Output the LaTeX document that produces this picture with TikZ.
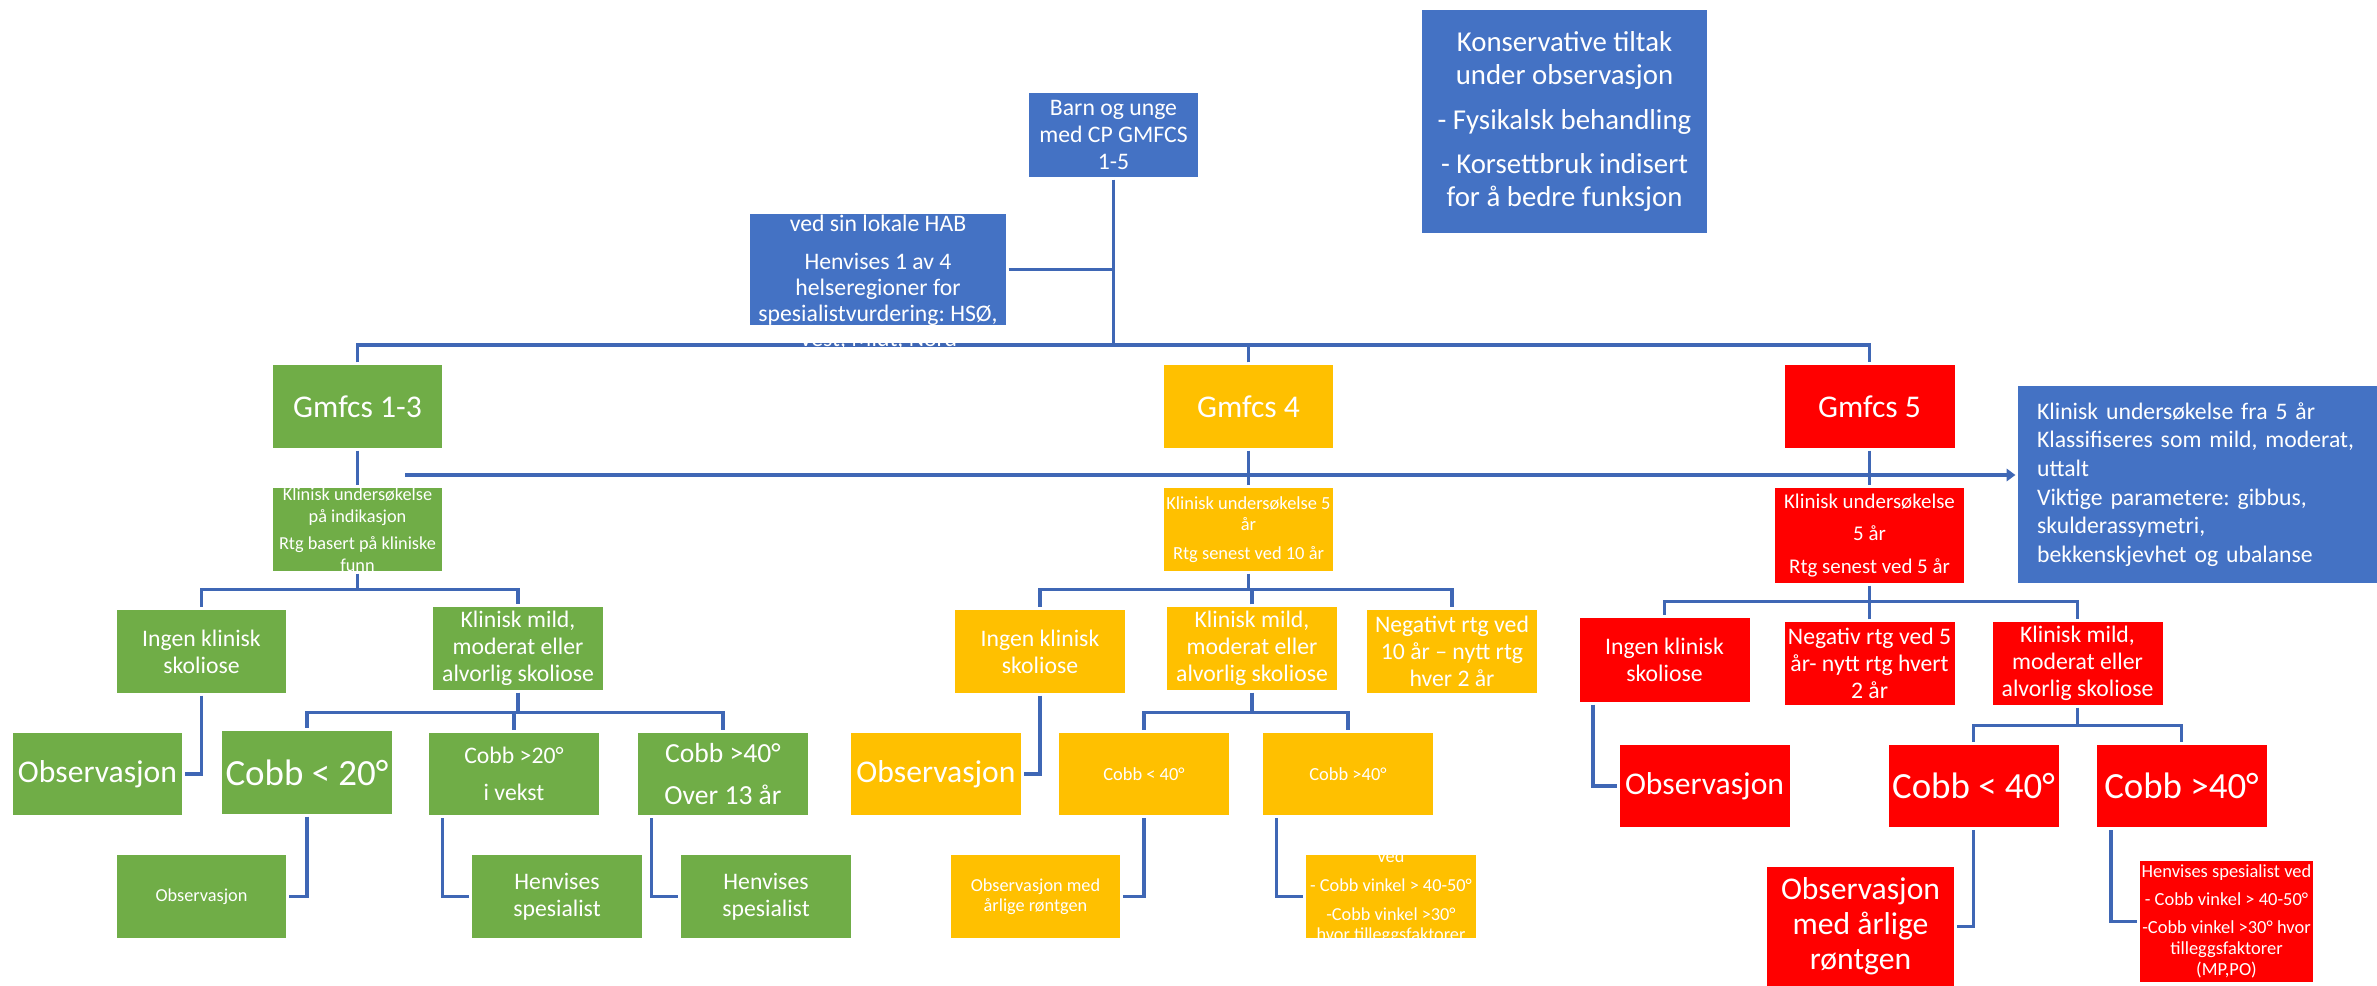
\documentclass[tikz,border=0pt]{standalone}
\usepackage{fontspec}
\setmainfont{Carlito}
\usetikzlibrary{arrows.meta}
\definecolor{hblue}{HTML}{4472C4}
\definecolor{hgreen}{HTML}{70AD47}
\definecolor{hgold}{HTML}{FFC000}
\definecolor{hred}{HTML}{FF0000}
\definecolor{wire}{HTML}{3F67B5}
\newcommand{\fsz}[2]{\fontsize{#1}{#2}\selectfont}
\frenchspacing

\begin{document}
\begin{tikzpicture}[x=0.02cm,y=-0.02cm,
  cell/.style={rectangle,inner sep=1pt,outer sep=1.5pt,text=white,align=center,minimum width=3.4cm,minimum height=1.66cm},
  gbox/.style={cell,fill=hgreen},obox/.style={cell,fill=hgold},rbox/.style={cell,fill=hred},bbox/.style={cell,fill=hblue},
  spill/.style={inner sep=0pt,text=white,align=center},
  big/.style={font=\fsz{18}{21}},huge/.style={font=\fsz{21}{24}},mid/.style={font=\fsz{13.5}{15.3}},small/.style={font=\fsz{10.4}{11.4}},
  link/.style={draw=wire,line width=2pt}]
\path[use as bounding box,fill=white] (0,0) rectangle (2377,986);
\coordinate (rail) at (0,345);\coordinate (tap) at (405,475);

\node[bbox,mid,minimum width=3.38cm,minimum height=1.68cm] (barn) at (1113.5,135) {Barn og unge\\med CP GMFCS\\1-5};
\node[bbox,font=\fsz{16.4}{18.7},minimum width=5.7cm,minimum height=4.46cm] (kons) at (1564.5,121.5) {Konservative tiltak\\under observasjon\\[6.8pt]- Fysikalsk behandling\\[6.8pt]- Korsettbruk indisert\\for å bedre funksjon};
\node[bbox,minimum width=5.12cm,minimum height=2.22cm] (hab) at (878,269.5) {};
\node[bbox,font=\fsz{13.5}{16.3},align=left,text width=6.42cm,inner xsep=0.38cm,minimum height=3.94cm] (info) at (2197.5,484.5) {Klinisk undersøkelse fra 5 år\\Klassifiseres som mild, moderat,\\uttalt\\Viktige parametere: gibbus,\\skulderassymetri,\\bekkenskjevhet og ubalanse};

\node[gbox,big] (g13) at (357.5,406.5) {Gmfcs 1-3};
\node[gbox] (k13) at (357.5,529.5) {};
\node[gbox,mid] (ing13) at (201.5,651.5) {Ingen klinisk\\skoliose};
\node[gbox,mid] (mild13) at (518,648.5) {Klinisk mild,\\moderat eller\\alvorlig skoliose};
\node[gbox,big] (obs13) at (97.5,774) {Observasjon};
\node[gbox,huge] (c20) at (307,772.5) {Cobb < 20°};
\node[gbox,mid] (c20b) at (514,774) {Cobb >20°\\[5.7pt]i vekst};
\node[gbox,font=\fsz{15.7}{18.7}] (c40g) at (723,774) {Cobb >40°\\[5.7pt]Over 13 år};
\node[gbox,small] (obsS) at (201.5,896.5) {Observasjon};
\node[gbox,mid] (hen1) at (557,896.5) {Henvises\\spesialist};
\node[gbox,mid] (hen2) at (766,896.5) {Henvises\\spesialist};

\node[obox,big] (g4) at (1248.5,406.5) {Gmfcs 4};
\node[obox,font=\fsz{10.5}{12}] (k4) at (1248.5,529.5) {Klinisk undersøkelse 5\\år\\[4.5pt]Rtg senest ved 10 år};
\node[obox,mid] (ing4) at (1040,651.5) {Ingen klinisk\\skoliose};
\node[obox,mid] (mild4) at (1252,648.5) {Klinisk mild,\\moderat eller\\alvorlig skoliose};
\node[obox,mid] (neg4) at (1452,651.5) {Negativt rtg ved\\10 år – nytt rtg\\hver 2 år};
\node[obox,big] (obs4) at (936,774) {Observasjon};
\node[obox,font=\fsz{10.5}{12}] (c40a) at (1144,774) {Cobb < 40°};
\node[obox,font=\fsz{10.5}{12}] (c40b) at (1348,774) {Cobb >40°};
\node[obox,small] (obsmed4) at (1035.5,896.5) {Observasjon med\\årlige røntgen};
\node[obox] (spec4) at (1391,896.5) {};

\node[rbox,big] (g5) at (1869.5,406.5) {Gmfcs 5};
\node[rbox,font=\fsz{11.9}{14},minimum width=3.78cm,minimum height=1.9cm] (k5) at (1869.5,535.5) {Klinisk undersøkelse\\[4.7pt]5 år\\[4.7pt]Rtg senest ved 5 år};
\node[rbox,mid,minimum height=1.68cm] (ing5) at (1664.5,660) {Ingen klinisk\\skoliose};
\node[rbox,mid] (neg5) at (1869.5,663.5) {Negativ rtg ved 5\\år- nytt rtg hvert\\2 år};
\node[rbox,mid] (mild5) at (2077.5,663.5) {Klinisk mild,\\moderat eller\\alvorlig skoliose};
\node[rbox,big] (obs5) at (1704.5,786) {Observasjon};
\node[rbox,huge] (c40r) at (1973.5,786) {Cobb < 40°};
\node[rbox,huge] (c40s) at (2181.5,786) {Cobb >40°};
\node[rbox,font=\fsz{18}{19.8},minimum width=3.74cm,minimum height=2.38cm] (obsmed5) at (1860.5,926.5) {Observasjon\\med årlige\\røntgen};
\node[rbox,font=\fsz{10.5}{11.9},minimum width=3.46cm,minimum height=2.42cm] (spec5) at (2226.5,921.5) {Henvises spesialist ved\\[4pt]- Cobb vinkel > 40-50°\\[4pt]-Cobb vinkel >30° hvor\\tilleggsfaktorer\\(MP,PO)};

\draw[link] (barn.south) -- (barn.south |- rail);
\draw[link] (hab.east) -- (hab.east -| barn.south);
\draw[link] (g13.north) -- (g13.north |- rail) -- (g5.north |- rail) -- (g5.north);
\draw[link] (g4.north) -- (g4.north |- rail);
\draw[link] (g13.south) -- (k13.north);\draw[link] (g4.south) -- (k4.north);\draw[link] (g5.south) -- (k5.north);
\draw[link,-{Triangle[length=5pt,width=7pt]}] (tap) -- (tap -| info.west);

\draw[link] (k13.south) -- ++(0,16) -| (ing13.north) (k13.south) ++(0,16) -| (mild13.north);
\draw[link] (ing13.south) |- (obs13.east);
\draw[link] (mild13.south) -- ++(0,20) -| (c20.north) (mild13.south) ++(0,20) -| (c40g.north) (c20b.north) -- ++(0,-18);
\draw[link] (c20.south) |- (obsS.east);
\draw[link] ([xshift=0.32cm]c20b.south west) |- (hen1.west);
\draw[link] ([xshift=0.32cm]c40g.south west) |- (hen2.west);

\draw[link] (k4.south) -- ++(0,16) -| (ing4.north) (k4.south) ++(0,16) -| (neg4.north) (mild4.north) -- ++(0,-16);
\draw[link] (ing4.south) |- (obs4.east);
\draw[link] (mild4.south) -- ++(0,20) -| (c40a.north) (mild4.south) ++(0,20) -| (c40b.north);
\draw[link] (c40a.south) |- (obsmed4.east);
\draw[link] ([xshift=0.32cm]c40b.south west) |- (spec4.west);

\draw[link] (k5.south) -- ++(0,16) -| (ing5.north) (k5.south) ++(0,16) -| (mild5.north) (neg5.north) -- ++(0,-20);
\draw[link] ([xshift=0.32cm]ing5.south west) |- (obs5.west);
\draw[link] (mild5.south) -- ++(0,18) -| (c40r.north) (mild5.south) ++(0,18) -| (c40s.north);
\draw[link] (c40r.south) |- (obsmed5.east);
\draw[link] ([xshift=0.34cm]c40s.south west) |- (spec5.west);

\node[spill,font=\fsz{13.5}{14.7}] (habtxt) at (878,282.5) {ved sin lokale HAB\\[6.8pt]Henvises 1 av 4\\helseregioner for\\spesialistvurdering: HSØ,\\Vest, Midt, Nord};
\node[spill,font=\fsz{10.4}{12.5}] (k13txt) at (357.5,529.5) {Klinisk undersøkelse\\på indikasjon\\[2.8pt]Rtg basert på kliniske\\funn};
\node[spill,small] (spec4txt) at (1391,896.5) {Henvises spesialist\\ved\\[5pt]- Cobb vinkel > 40-50°\\[5pt]-Cobb vinkel >30°\\hvor tilleggsfaktorer\\(MP,PO)};
\end{tikzpicture}
\end{document}
